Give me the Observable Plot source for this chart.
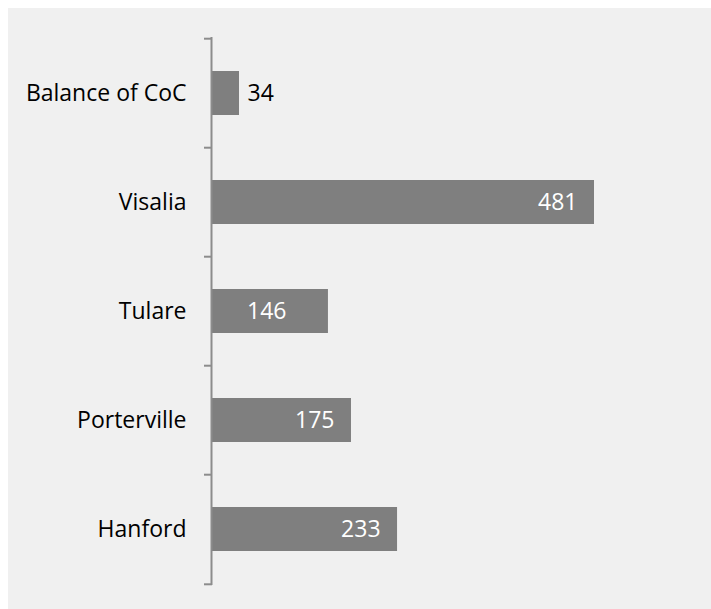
<!DOCTYPE html>
<html>
<head>
<meta charset="utf-8">
<script src="https://cdn.jsdelivr.net/npm/d3@7"></script>
<script src="https://cdn.jsdelivr.net/npm/@observablehq/plot@0.6"></script>
<style>
  html, body { margin: 0; padding: 0; background: #ffffff; }
  #chart { position: absolute; left: 8px; top: 8px; width: 703px; height: 601px; background: #f0f0f0; }
  #chart svg { display: block; }
</style>
</head>
<body>
<div id="chart"></div>
<script>
const categories = ["Balance of CoC", "Visalia", "Tulare", "Porterville", "Hanford"];
const counts = [34, 481, 146, 175, 233];

const data = categories.map((c, i) => ({category: c, count: counts[i]}));

const width = 703, height = 601;
const marginTop = 29, marginBottom = 24, marginLeft = 204, marginRight = 117;
const step = (height - marginTop - marginBottom) / categories.length;
const font = "'Open Sans', sans-serif";
const fs = 23;

const chart = Plot.plot({
  width, height, marginTop, marginBottom, marginLeft, marginRight,
  style: {background: "transparent", fontFamily: font, fontSize: fs + "px", color: "#000"},
  x: {domain: [0, 481], axis: null},
  y: {domain: categories, paddingInner: 0.6, paddingOuter: 0.3, align: 0.5, label: null},
  marks: [
    Plot.barX(data, {x: "count", y: "category", fill: "#7f7f7f"}),
    Plot.axisY({tickSize: 0, tickPadding: 26, fontSize: fs, fill: "#000", fontFamily: font}),
    Plot.axisY({text: null, tickSize: 8, dy: -step / 2, stroke: "#8c8c8c", strokeWidth: 2}),
    Plot.axisY({ticks: [categories[categories.length - 1]], text: null, tickSize: 8, dy: step / 2, stroke: "#8c8c8c", strokeWidth: 2}),
    Plot.ruleX([0], {stroke: "#8c8c8c", strokeWidth: 2, dx: -1}),
    Plot.text(data.filter(d => d.count < 60), {x: "count", y: "category", text: d => String(d.count), textAnchor: "start", dx: 8, fill: "#000", fontSize: fs, fontFamily: font}),
    Plot.text(data.filter(d => d.count >= 60 && d.category !== "Tulare"), {x: "count", y: "category", text: d => String(d.count), textAnchor: "end", dx: -17, fill: "#fff", fontSize: fs, fontFamily: font}),
    Plot.text(data.filter(d => d.category === "Tulare"), {x: "count", y: "category", text: d => String(d.count), textAnchor: "end", dx: -42, fill: "#fff", fontSize: fs, fontFamily: font})
  ]
});
document.getElementById("chart").appendChild(chart);
</script>
</body>
</html>
